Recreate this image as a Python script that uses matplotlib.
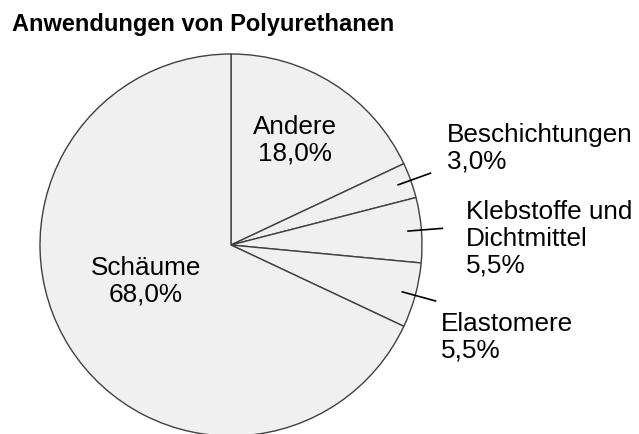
import matplotlib
matplotlib.use("Agg")
import matplotlib.pyplot as plt
import numpy as np

plt.rcParams['font.family'] = ['Liberation Sans', 'DejaVu Sans']

title = "Anwendungen von Polyurethanen"
categories = ["Andere", "Beschichtungen", "Klebstoffe und\nDichtmittel", "Elastomere", "Schäume"]
values = [18.0, 3.0, 5.5, 5.5, 68.0]

W, H = 639, 435
fig = plt.figure(figsize=(W / 100, H / 100), dpi=100)
ax = fig.add_axes([0, 0, 1, 1])

cx, cy, R = 231, H - 246, 191
wedges, _ = ax.pie(values, startangle=90, counterclock=False, center=(cx, cy), radius=R,
                   colors=["#f0f0f0"] * len(values),
                   wedgeprops=dict(edgecolor="#404040", linewidth=1.0))
ax.set_xlim(0, W)
ax.set_ylim(0, H)
ax.set_aspect('equal')
ax.axis('off')

def lab(v):
    return f"{v:.1f}".replace(".", ",") + "%"

fs = 18.8
ls = 1.15
# inside labels
ax.text(295, H - 140, f"{categories[0]}\n{lab(values[0])}", ha='center', va='center', fontsize=fs, linespacing=ls)
ax.text(146, H - 281, f"{categories[4]}\n{lab(values[4])}", ha='center', va='center', fontsize=fs, linespacing=ls)

# outside labels with leader lines
out_pos = {1: (447, 148, 'left'), 2: (466, 239, 'left'), 3: (441, 337, 'left')}
for i, (tx, ty, ha) in out_pos.items():
    w = wedges[i]
    mid = np.deg2rad((w.theta1 + w.theta2) / 2)
    r1, r2 = 0.93 * R, 1.11 * R
    ax.plot([cx + r1 * np.cos(mid), cx + r2 * np.cos(mid)],
            [cy + r1 * np.sin(mid), cy + r2 * np.sin(mid)], color="black", lw=1.2)
    ax.text(tx, H - ty, f"{categories[i]}\n{lab(values[i])}", ha=ha, va='center', fontsize=fs, linespacing=ls)

fig.text(12 / W, 1 - 25 / H, title, ha='left', va='center', fontsize=17, fontweight='bold')

fig.savefig("out.png", dpi=100, facecolor="white")
